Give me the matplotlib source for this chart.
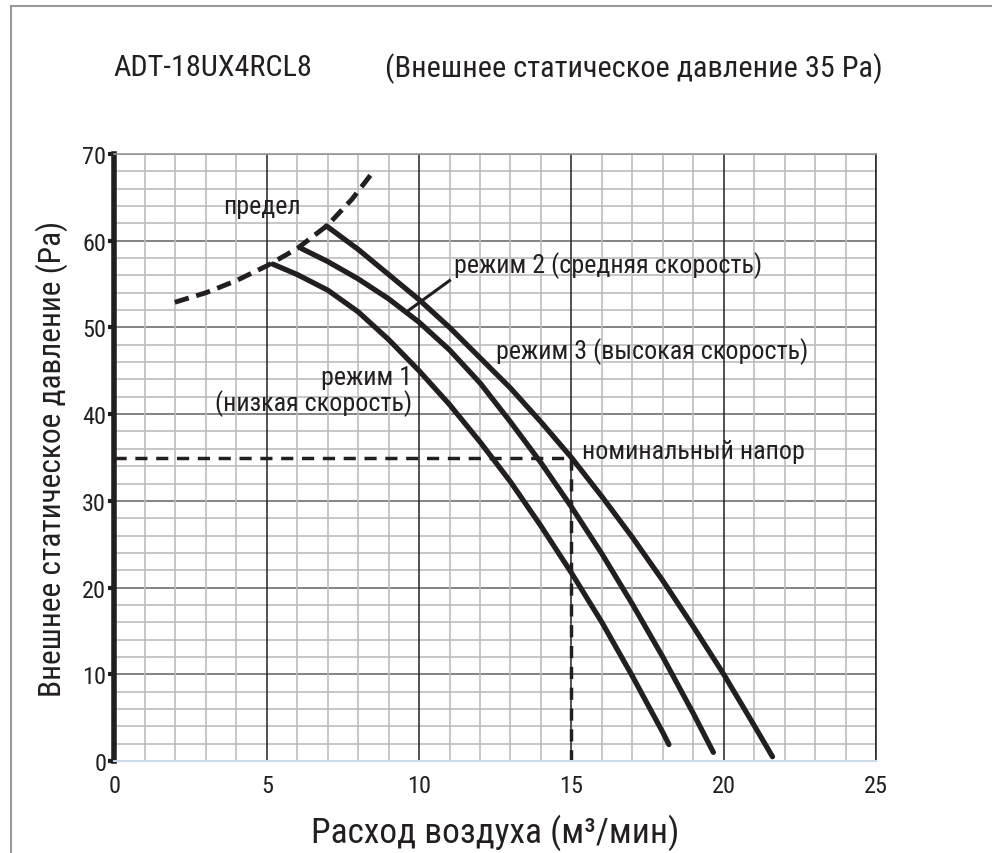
import matplotlib
matplotlib.use("Agg")
from matplotlib import pyplot as plt
from matplotlib.lines import Line2D
from matplotlib.ticker import MultipleLocator
from matplotlib import font_manager

# узкий шрифт, если найдётся
names = sorted({f.name for f in font_manager.fontManager.ttflist})
narrow = [n for n in ["Roboto Condensed", "Liberation Sans Narrow", "Open Sans Condensed"] if n in names]
if narrow:
    FONT, K = narrow[0], 1.0
else:
    FONT, K = "Liberation Sans", 1 / 1.2
plt.rcParams['font.family'] = [FONT, 'DejaVu Sans']

MODEL = "ADT-18UX4RCL8"
TITLE = "(Внешнее статическое давление 35 Pa)"

# предельная кривая
limit_x = [1.98, 3.0, 4.0, 5.0, 6.0, 7.0, 7.8, 8.48]
limit_y = [52.9, 54.0, 55.4, 57.1, 59.1, 61.8, 64.8, 67.9]

# режим 1 (низкая скорость)
low_x = [5.2, 6.0, 7.0, 8.0, 9.0, 10.0, 11.0, 12.0, 13.0, 14.0, 15.0, 16.0, 17.0, 18.0, 18.2]
low_y = [57.3, 56.1, 54.3, 51.8, 48.6, 45.0, 41.1, 36.8, 32.2, 27.1, 21.7, 16.0, 9.8, 3.3, 1.9]

# режим 2 (средняя скорость)
mid_x = [6.14, 7.0, 8.0, 9.0, 10.0, 11.0, 12.0, 13.0, 14.0, 15.0, 16.0, 17.0, 18.0, 19.0, 19.66]
mid_y = [59.1, 57.6, 55.6, 53.3, 50.6, 47.4, 43.6, 39.1, 34.4, 29.3, 23.9, 18.1, 12.0, 5.5, 1.0]

# режим 3 (высокая скорость)
high_x = [6.96, 8.0, 9.0, 10.0, 11.0, 12.0, 13.0, 14.0, 15.0, 16.0, 17.0, 18.0, 19.0, 20.0, 21.0, 21.6]
high_y = [61.7, 59.0, 56.1, 53.2, 50.0, 46.5, 43.0, 39.1, 35.0, 30.5, 25.8, 20.8, 15.5, 10.0, 4.1, 0.5]

NOM_FLOW = 15
NOM_PRESSURE = 35

INK = '#231f20'

fig = plt.figure(figsize=(9.92, 8.54), dpi=100)
ax = fig.add_axes([0.1154, 0.1077, 0.7677, 0.7108])

ax.set_xlim(0, 25)
ax.set_ylim(0, 70)
ax.xaxis.set_major_locator(MultipleLocator(5))
ax.xaxis.set_minor_locator(MultipleLocator(1))
ax.yaxis.set_major_locator(MultipleLocator(10))
ax.yaxis.set_minor_locator(MultipleLocator(2))

ax.grid(which='minor', color='#bdbdbd', linewidth=1.2)
ax.grid(which='major', axis='y', color='#6e6e6e', linewidth=1.2)
ax.grid(which='major', axis='x', color='#222222', linewidth=1.1)
ax.set_axisbelow(True)
ax.xaxis.set_zorder(0.6)  # вертикальные линии поверх горизонтальных

ax.spines['top'].set_color('#9a9a9a')
ax.spines['top'].set_linewidth(1.2)
ax.spines['right'].set_color('#222222')
ax.spines['right'].set_linewidth(1.1)
ax.spines['bottom'].set_color('#c9d8ea')
ax.spines['bottom'].set_linewidth(1.5)
ax.spines['left'].set_color(INK)
ax.spines['left'].set_linewidth(4)

ax.tick_params(axis='y', which='major', length=4, width=3, color=INK,
               labelsize=17.5 * K, pad=2, labelcolor=INK)
ax.tick_params(axis='x', which='major', length=0, labelsize=17.5 * K, pad=9, labelcolor=INK)
ax.tick_params(which='minor', length=0)

line_kw = dict(color=INK, linewidth=3.8, solid_capstyle='round', solid_joinstyle='round')
ax.plot(low_x, low_y, **line_kw)
ax.plot(mid_x, mid_y, **line_kw)
ax.plot(high_x, high_y, **line_kw)
ax.plot(limit_x, limit_y, color=INK, linewidth=3.5, dashes=(3, 1.6))

# номинальный напор
ax.plot([0, NOM_FLOW], [NOM_PRESSURE, NOM_PRESSURE], color=INK, linewidth=2.5, dashes=(3.5, 2.5))
ax.plot([NOM_FLOW, NOM_FLOW], [NOM_PRESSURE, 0], color=INK, linewidth=2.5, dashes=(3.5, 2.5))

# выноска к режиму 2
ax.plot([9.59, 11.0], [51.8, 55.4], color=INK, linewidth=2.2)

txt = dict(fontsize=18.7 * K, color=INK)
ax.text(4.84, 64.0, "предел", ha='center', va='center', **txt)
ax.text(11.16, 57.3, "режим 2 (средняя скорость)", ha='left', va='center', **txt)
ax.text(12.54, 47.3, "режим 3 (высокая скорость)", ha='left', va='center', **txt)
ax.text(9.77, 42.7, "режим 1\n(низкая скорость)", ha='right', va='center',
        multialignment='right', linespacing=1.0, **txt)
ax.text(15.36, 35.8, "номинальный напор", ha='left', va='center', **txt)

ax.set_xlabel("Расход воздуха (м³/мин)", fontsize=25.5 * K, color=INK, labelpad=12)
ax.set_ylabel("Внешнее статическое давление (Pa)", fontsize=22.6 * K, color=INK, labelpad=10)

fig.text(0.114, 0.920, MODEL, fontsize=21.8 * K, color=INK, ha='left', va='center')
fig.text(0.388, 0.920, TITLE, fontsize=21.8 * K, color=INK, ha='left', va='center')

# рамка
fig.add_artist(Line2D([0.0106, 0.0106], [0.0, 0.992], color='#9a9a9a', linewidth=1.5, transform=fig.transFigure))
fig.add_artist(Line2D([0.0106, 1.0], [0.992, 0.992], color='#9a9a9a', linewidth=1.5, transform=fig.transFigure))

fig.savefig("out.png", dpi=100)
